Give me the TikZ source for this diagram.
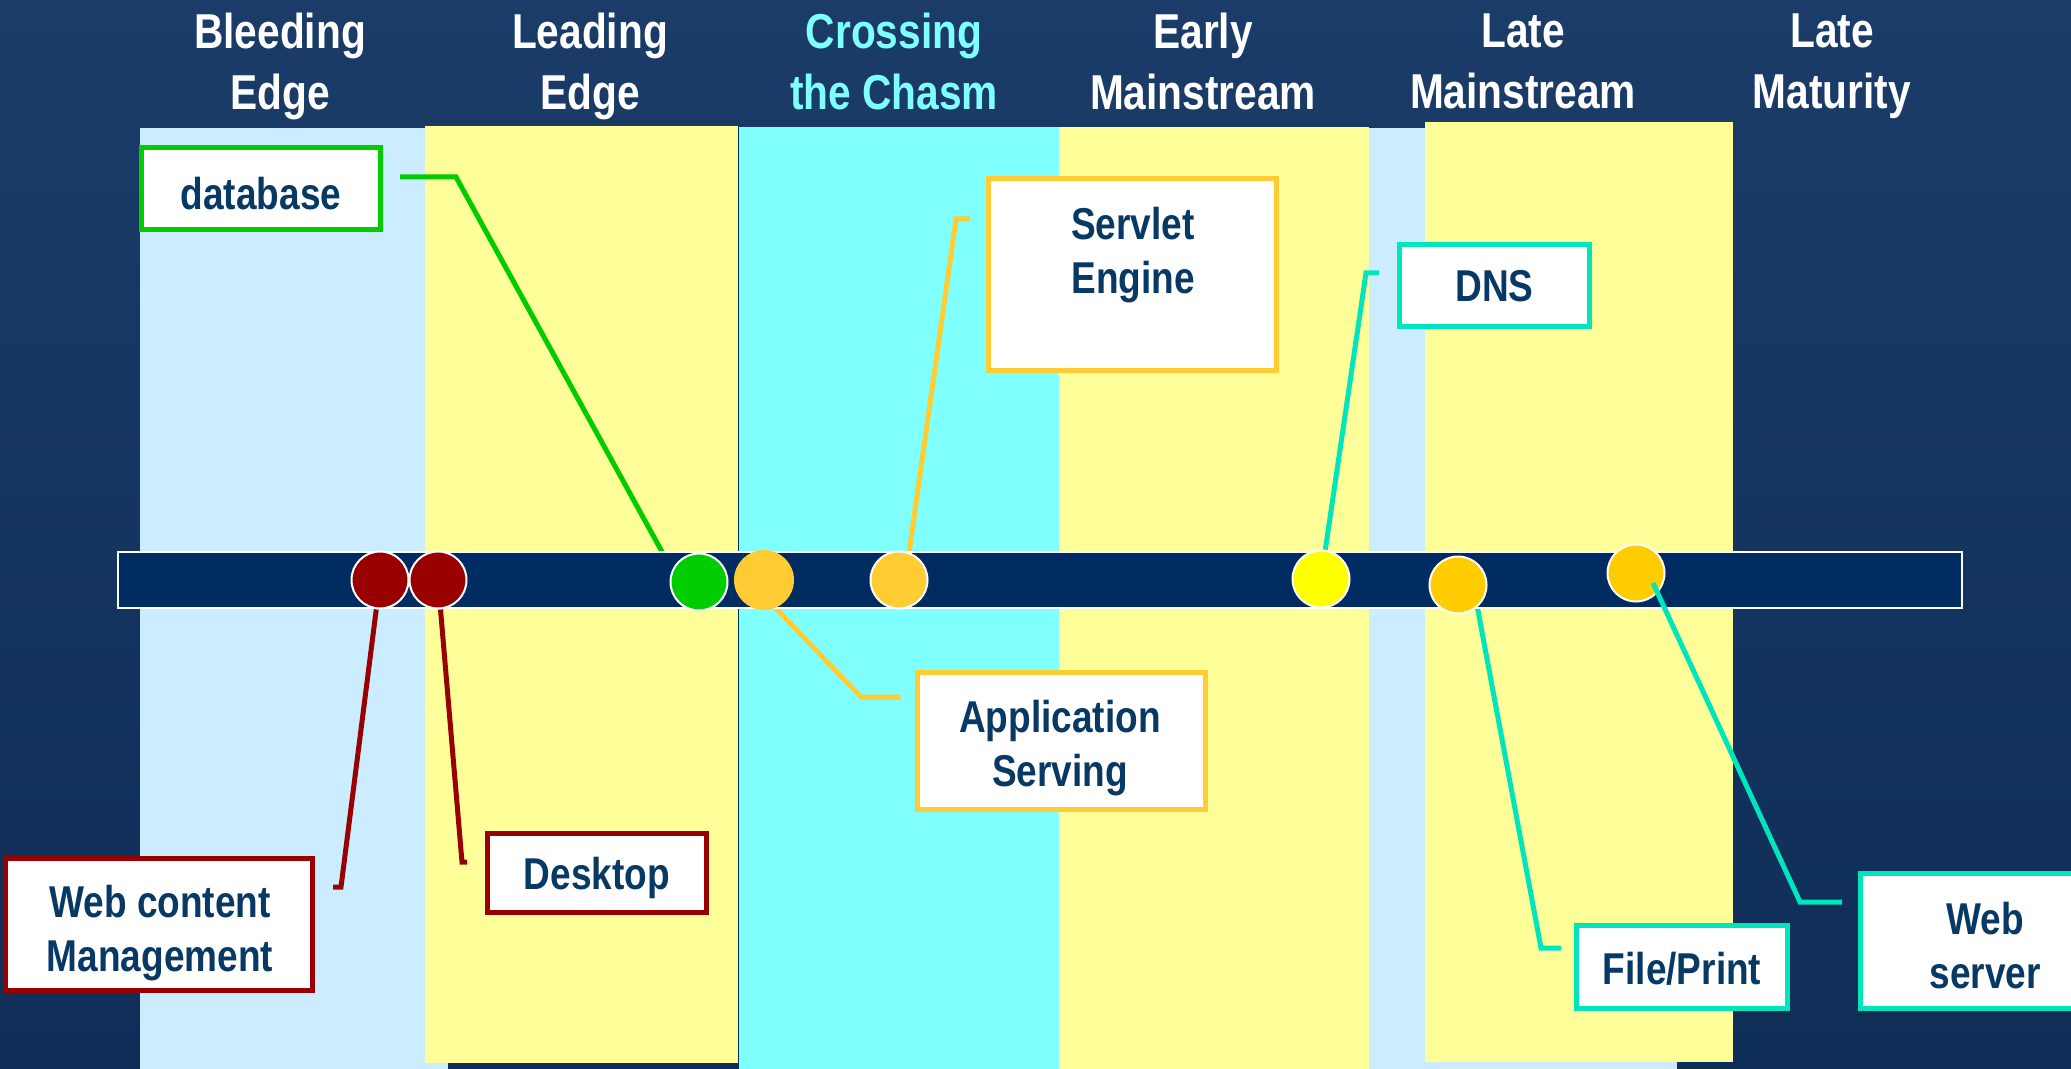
\documentclass[tikz,border=0pt]{standalone}
\usepackage{fontspec}
\newfontfamily\nb{Liberation Sans}[FakeStretch=0.83]
\definecolor{bgtop}{HTML}{1B3C68}
\definecolor{bgbot}{HTML}{0E2E58}
\definecolor{lightblue}{HTML}{CCECFF}
\definecolor{paleyellow}{HTML}{FFFF99}
\definecolor{chasm}{HTML}{80FFFF}
\definecolor{barnavy}{HTML}{002C61}
\definecolor{boxtext}{HTML}{083864}
\definecolor{darkred}{HTML}{990000}
\definecolor{leafgreen}{HTML}{00CC00}
\definecolor{gold}{HTML}{FFCC33}
\definecolor{brightyellow}{HTML}{FFFF00}
\definecolor{amber}{HTML}{FFCC00}
\definecolor{turq}{HTML}{00E5BB}
\pgfdeclarelayer{bg}
\pgfdeclarelayer{lines}
\pgfsetlayers{bg,lines,main}
\begin{document}
\begin{tikzpicture}[x=0.5pt,y=-0.5pt,
  barbox/.style={rectangle,draw=white,line width=1pt,fill=barnavy,inner sep=0pt},
  dot/.style={circle,inner sep=0pt,minimum size=28.5pt,draw=white,line width=1pt},
  frame/.style={rectangle,fill=white,line width=2.5pt,inner sep=0pt},
  lbl/.style={anchor=north,align=center,inner sep=0pt,text=boxtext,font=\nb\bfseries\fontsize{22.3}{27}\selectfont},
  ttl/.style={anchor=north,align=center,inner sep=0pt,text=white,font=\nb\bfseries\fontsize{24.5}{30.5}\selectfont},
  lead/.style={line width=2.5pt}
]
\useasboundingbox (0,0) rectangle (2071,1069);
\begin{pgfonlayer}{bg}
\shade[top color=bgtop,bottom color=bgbot] (0,0) rectangle (2071,1069);
\fill[lightblue] (140,128) rectangle (448,1069);
\fill[paleyellow] (425,126) rectangle (738,1063);
\fill[chasm] (738,127) rectangle (1059,1069);
\draw[barnavy,line width=0.5pt] (738,127) -- (738,1069);
\fill[paleyellow] (1059,127) rectangle (1369,1069);
\fill[lightblue] (1369,128) rectangle (1677,1069);
\fill[paleyellow] (1425,122) rectangle (1733,1062);
\end{pgfonlayer}

% titles
\node[ttl] (t1) at (280,13) {Bleeding\\Edge};
\node[ttl] (t2) at (590,13) {Leading\\Edge};
\node[ttl,text=chasm] (t3) at (894,13) {Crossing\\the Chasm};
\node[ttl] (t4) at (1203,13) {Early\\Mainstream};
\node[ttl] (t5) at (1523,13) {Late\\Mainstream};
\node[ttl] (t6) at (1832,13) {Late\\Maturity};

% timeline bar and dots
\node[barbox,minimum width=922pt,minimum height=28pt] (bar) at (1040,580) {};
\node[dot,fill=darkred] (r1) at (380,580) {};
\node[dot,fill=darkred] (r2) at (438,580) {};
\node[dot,fill=leafgreen] (g) at (699,582) {};
\node[dot,fill=gold,draw=none,minimum size=30pt] (y1) at (764,580) {};
\node[dot,fill=gold] (y2) at (899,580) {};
\node[dot,fill=brightyellow] (yb) at (1321,579) {};
\node[dot,fill=amber] (o1) at (1458,585) {};
\node[dot,fill=amber] (o2) at (1636,573) {};

% free ends of leaders
\coordinate (dbS) at (400,177);   \coordinate (dbC) at (456,177);
\coordinate (seS) at (970,219);   \coordinate (seC) at (956,219);
\coordinate (dnS) at (1379,273);  \coordinate (dnC) at (1366,273);
\coordinate (apS) at (901,697);   \coordinate (apC) at (861,697);
\coordinate (wcS) at (333,887);   \coordinate (wcC) at (341,887);
\coordinate (deS) at (467,862);   \coordinate (deC) at (462,862);
\coordinate (fpS) at (1561,948);  \coordinate (fpC) at (1541,948);
\coordinate (wsS) at (1842,902);  \coordinate (wsC) at (1800,902);

\begin{pgfonlayer}{lines}
\draw[lead,leafgreen] (dbS) -- (dbC) -- (g.156);
\draw[lead,gold] (seS) -- (seC) -- (y2.70);
\draw[lead,turq] (dnS) -- (dnC) -- (yb);
\draw[lead,gold] (y1.-67) -- (apC) -- (apS);
\draw[lead,darkred] (r1) -- (wcC) -- (wcS);
\draw[lead,darkred] (r2) -- (deC) -- (deS);
\draw[lead,turq] (o1.-49) -- (fpC) -- (fpS);
\end{pgfonlayer}
\draw[lead,turq] (o2.center) ++(17,10) -- (wsC) -- (wsS);

% label boxes
\node[frame,draw=leafgreen,minimum width=119.5pt,minimum height=41pt] (db) at (261,188.5) {};
\node[lbl] (dbt) at (261,177) {database};
\node[frame,draw=gold,minimum width=144pt,minimum height=96pt] (se) at (1132.5,274.5) {};
\node[lbl] (set) at (1133,207) {Servlet\\Engine};
\node[frame,draw=turq,minimum width=95pt,minimum height=41pt] (dn) at (1494.5,285.5) {};
\node[lbl] (dnt) at (1494.5,270) {DNS};
\node[frame,draw=gold,minimum width=144pt,minimum height=68.5pt] (ap) at (1061.5,741) {};
\node[lbl] (apt) at (1060,700) {Application\\Serving};
\node[frame,draw=darkred,minimum width=153.5pt,minimum height=66pt] (wc) at (159,924.5) {};
\node[lbl] (wct) at (160,885) {Web content\\Management};
\node[frame,draw=darkred,minimum width=109.5pt,minimum height=39.5pt] (de) at (597,873) {};
\node[lbl] (det) at (597,857) {Desktop};
\node[frame,draw=turq,minimum width=105.5pt,minimum height=41.5pt] (fp) at (1682,967) {};
\node[lbl] (fpt) at (1682,952) {File/Print};
\node[frame,draw=turq,minimum width=124.5pt,minimum height=67.5pt] (ws) at (1985,941) {};
\node[lbl] (wst) at (1985,902) {Web\\server};
\end{tikzpicture}
\end{document}
